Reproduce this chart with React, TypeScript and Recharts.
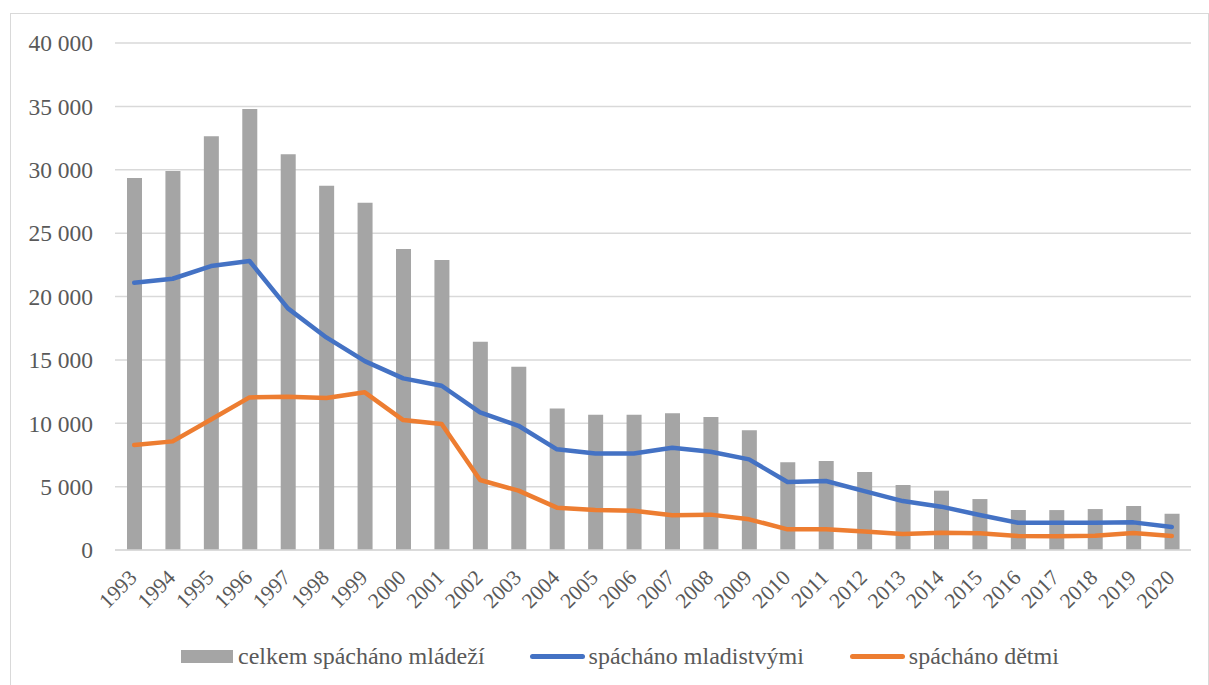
import { ComposedChart, Bar, Line, XAxis, YAxis, CartesianGrid, Legend } from "recharts"

const years = [
  "1993", "1994", "1995", "1996", "1997", "1998", "1999", "2000", "2001", "2002",
  "2003", "2004", "2005", "2006", "2007", "2008", "2009", "2010", "2011", "2012",
  "2013", "2014", "2015", "2016", "2017", "2018", "2019", "2020",
]

const totalYouth = [
  29340, 29910, 32650, 34800, 31230, 28730, 27390, 23740, 22870, 16430,
  14460, 11170, 10670, 10670, 10780, 10490, 9440, 6920, 7020, 6150,
  5130, 4680, 4020, 3150, 3150, 3230, 3470, 2860,
]

const juveniles = [
  21080, 21400, 22400, 22800, 19060, 16770, 14900, 13540, 12960, 10860,
  9800, 7940, 7620, 7620, 8070, 7750, 7150, 5360, 5440, 4650,
  3860, 3420, 2760, 2150, 2150, 2150, 2180, 1810,
]

const children = [
  8280, 8570, 10300, 12040, 12090, 11990, 12440, 10250, 9940, 5520,
  4680, 3340, 3150, 3100, 2740, 2790, 2420, 1630, 1630, 1450,
  1260, 1370, 1320, 1100, 1080, 1130, 1340, 1100,
]

const yTicks = [0, 5000, 10000, 15000, 20000, 25000, 30000, 35000, 40000]

const data = years.map((year, i) => ({
  year,
  total: totalYouth[i],
  juv: juveniles[i],
  kids: children[i],
}))

const FONT = "Times New Roman"
const TEXT = "#595959"

const fmt = (v: number) =>
  v === 0 ? "0" : `${Math.floor(v / 1000)} ${String(v % 1000).padStart(3, "0")}`

function YearTick(props: any) {
  const { x, y, payload } = props
  return (
    <g transform={`translate(${x + 4},${y + 29})`}>
      <text
        transform="rotate(-45)"
        textAnchor="end"
        fill={TEXT}
        fontSize={21.5}
        fontFamily={FONT}
      >
        {payload.value}
      </text>
    </g>
  )
}

function LegendBox() {
  const item = { display: "flex", alignItems: "center" }
  const label = { marginLeft: 5, fontSize: 24, color: TEXT, fontFamily: FONT, lineHeight: "27px" }
  return (
    <div
      style={{
        height: 50,
        boxSizing: "border-box",
        paddingTop: 8,
        paddingLeft: 181,
        display: "flex",
        justifyContent: "flex-start",
        alignItems: "flex-start",
      }}
    >
      <div style={item}>
        <div style={{ width: 52, height: 13, background: "#a5a5a5" }} />
        <span style={label}>celkem spácháno mládeží</span>
      </div>
      <div style={{ ...item, marginLeft: 45 }}>
        <div style={{ width: 55, height: 5, borderRadius: 3, background: "#4472c4" }} />
        <span style={{ ...label, marginLeft: 4 }}>spácháno mladistvými</span>
      </div>
      <div style={{ ...item, marginLeft: 46 }}>
        <div style={{ width: 55, height: 5, borderRadius: 3, background: "#ed7d31" }} />
        <span style={{ ...label, marginLeft: 4 }}>spácháno dětmi</span>
      </div>
    </div>
  )
}

export default function App() {
  return (
    <div
      style={{
        position: "absolute",
        left: 0,
        top: 0,
        width: 1209,
        height: 685,
        overflow: "hidden",
        background: "#fff",
      }}
    >
      <div
        style={{
          position: "absolute",
          left: 10,
          top: 13,
          width: 1197,
          height: 700,
          border: "1px solid #d9d9d9",
        }}
      />
      <ComposedChart
        width={1209}
        height={685}
        data={data}
        margin={{ top: 43, right: 18, bottom: 0, left: 0 }}
        barSize={15}
        style={{ position: "absolute", left: 0, top: 0 }}
      >
        <CartesianGrid vertical={false} stroke="#d9d9d9" strokeWidth={1.5} />
        <XAxis
          dataKey="year"
          height={85}
          interval={0}
          tickLine={false}
          tickSize={0}
          tickMargin={0}
          axisLine={{ stroke: "#d9d9d9", strokeWidth: 1.5 }}
          tick={<YearTick />}
        />
        <YAxis
          width={115}
          domain={[0, 40000]}
          ticks={yTicks}
          tickFormatter={fmt}
          axisLine={false}
          tickLine={false}
          tickSize={0}
          tickMargin={22}
          tick={{ fill: TEXT, fontSize: 23.5, fontFamily: FONT }}
        />
        <Legend verticalAlign="bottom" wrapperStyle={{ height: 50 }} content={<LegendBox />} />
        <Bar dataKey="total" fill="#a5a5a5" isAnimationActive={false} />
        <Line
          type="linear"
          dataKey="juv"
          stroke="#4472c4"
          strokeWidth={4.5}
          dot={false}
          strokeLinecap="round"
          strokeLinejoin="round"
          isAnimationActive={false}
        />
        <Line
          type="linear"
          dataKey="kids"
          stroke="#ed7d31"
          strokeWidth={4.5}
          dot={false}
          strokeLinecap="round"
          strokeLinejoin="round"
          isAnimationActive={false}
        />
      </ComposedChart>
    </div>
  )
}
